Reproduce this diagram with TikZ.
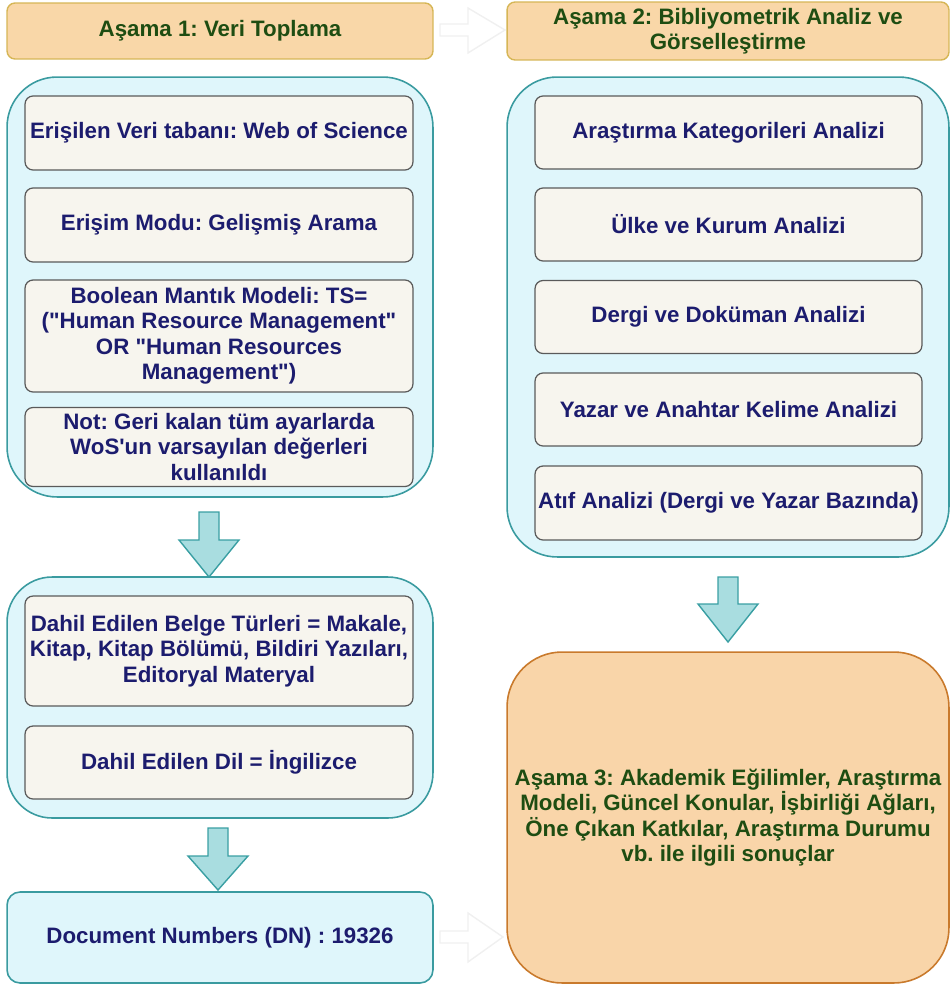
\documentclass[tikz,border=0pt]{standalone}
\usepackage{fontspec}
\setmainfont{Liberation Sans}[Ligatures=TeXOff]
\usepackage{tikz}
\frenchspacing

\definecolor{hdrfill}{HTML}{F9D7A8}
\definecolor{hdrline}{HTML}{D6B656}
\definecolor{hdrtext}{HTML}{1E4D12}
\definecolor{contfill}{HTML}{DFF6FB}
\definecolor{contline}{HTML}{3A9BA0}
\definecolor{boxfill}{HTML}{F7F5EE}
\definecolor{boxline}{HTML}{5A5A5A}
\definecolor{txtblue}{HTML}{1C1C6E}
\definecolor{arrfill}{HTML}{A9DDE0}
\definecolor{arrline}{HTML}{3A9FA3}
\definecolor{orfill}{HTML}{F9D5A9}
\definecolor{orline}{HTML}{C97A2C}

\tikzset{
  txt/.style={font=\fontsize{12.7}{14.5}\selectfont\bfseries, align=center, inner xsep=1pt},
  header/.style={txt, draw=hdrline, fill=hdrfill, text=hdrtext, line width=0.8pt,
    rounded corners=0.16cm, minimum height=1.12cm},
  container/.style={draw=contline, fill=contfill, line width=0.9pt, rounded corners=1cm},
  infobox/.style={txt, draw=boxline, fill=boxfill, text=txtblue, line width=0.7pt,
    rounded corners=0.16cm},
  blockarrow/.style={draw=arrline, fill=arrfill, line width=0.8pt, line join=miter},
  hollowarrow/.style={draw=black!6, fill=white, line width=0.8pt}
}

\begin{document}
\begin{tikzpicture}[x=0.02cm, y=-0.02cm]
\useasboundingbox (0,0) rectangle (952,987);
%
\node[header, minimum width=8.52cm] (stage1) at (220,31) {Aşama 1: Veri Toplama};
\node[header, minimum width=8.84cm] (stage2) at (728,31) {Aşama 2: Bibliyometrik Analiz ve\\Görselleştirme};
%
\draw[hollowarrow] (440,24) -- (468,24) -- (468,8) -- (505,30) -- (468,53) -- (468,36) -- (440,36) -- cycle;
%
% left column
\node[container, minimum width=8.52cm, minimum height=8.4cm] (collect) at (220,287) {};
\node[infobox, minimum width=7.76cm, minimum height=1.48cm] (wos) at (219,133) {Erişilen Veri tabanı: Web of Science};
\node[infobox, minimum width=7.76cm, minimum height=1.48cm] (mode) at (219,225) {Erişim Modu: Gelişmiş Arama};
\node[infobox, minimum width=7.76cm, minimum height=2.24cm] (bool) at (219,336) {Boolean Mantık Modeli: TS=\\("Human Resource Management"\\OR "Human Resources\\Management")};
\node[infobox, minimum width=7.76cm, minimum height=1.48cm] (note) at (219,447) {Not: Geri kalan tüm ayarlarda\\WoS'un varsayılan değerleri\\kullanıldı};
%
\draw[blockarrow] (199,512) -- (219,512) -- (219,540) -- (239,540) -- (209,577) -- (179,540) -- (199,540) -- cycle;
%
\node[container, minimum width=8.52cm, minimum height=4.82cm, rounded corners=0.9cm] (filter) at (220,697.5) {};
\node[infobox, minimum width=7.76cm, minimum height=2.2cm] (types) at (219,651) {Dahil Edilen Belge Türleri = Makale,\\Kitap, Kitap Bölümü, Bildiri Yazıları,\\Editoryal Materyal};
\node[infobox, minimum width=7.76cm, minimum height=1.46cm] (lang) at (219,762.5) {Dahil Edilen Dil = İngilizce};
%
\draw[blockarrow] (208,828) -- (228,828) -- (228,856) -- (248,856) -- (218,890) -- (188,856) -- (208,856) -- cycle;
%
\node[txt, draw=contline, fill=contfill, text=txtblue, line width=0.9pt, rounded corners=0.26cm,
  minimum width=8.52cm, minimum height=1.82cm] (docnum) at (220,937.5) {Document Numbers (DN) : 19326};
%
\draw[hollowarrow] (440,931) -- (468,931) -- (468,913) -- (503,937) -- (468,962) -- (468,943) -- (440,943) -- cycle;
%
% right column
\node[container, minimum width=8.84cm, minimum height=9.6cm] (analysis) at (728,317) {};
\node[infobox, minimum width=7.74cm, minimum height=1.46cm] (categ) at (728.5,132.5) {Araştırma Kategorileri Analizi};
\node[infobox, minimum width=7.74cm, minimum height=1.46cm] (country) at (728.5,224.5) {Ülke ve Kurum Analizi};
\node[infobox, minimum width=7.74cm, minimum height=1.46cm] (journal) at (728.5,317) {Dergi ve Doküman Analizi};
\node[infobox, minimum width=7.74cm, minimum height=1.46cm] (author) at (728.5,409.5) {Yazar ve Anahtar Kelime Analizi};
\node[infobox, minimum width=7.74cm, minimum height=1.48cm] (citation) at (728.5,503) {Atıf Analizi (Dergi ve Yazar Bazında)};
%
\draw[blockarrow] (718,577) -- (738,577) -- (738,604) -- (758,604) -- (728,642) -- (698,604) -- (718,604) -- cycle;
%
\node[txt, draw=orline, fill=orfill, text=hdrtext, line width=0.9pt, rounded corners=1.1cm,
  minimum width=8.84cm, minimum height=6.62cm] (stage3) at (728,817.5) {Aşama 3: Akademik Eğilimler, Araştırma\\Modeli, Güncel Konular, İşbirliği Ağları,\\Öne Çıkan Katkılar, Araştırma Durumu\\vb. ile ilgili sonuçlar};
%%%%%%%%%%%%%%%%%%%%%%%%%%%%%%%
\end{tikzpicture}
\end{document}
